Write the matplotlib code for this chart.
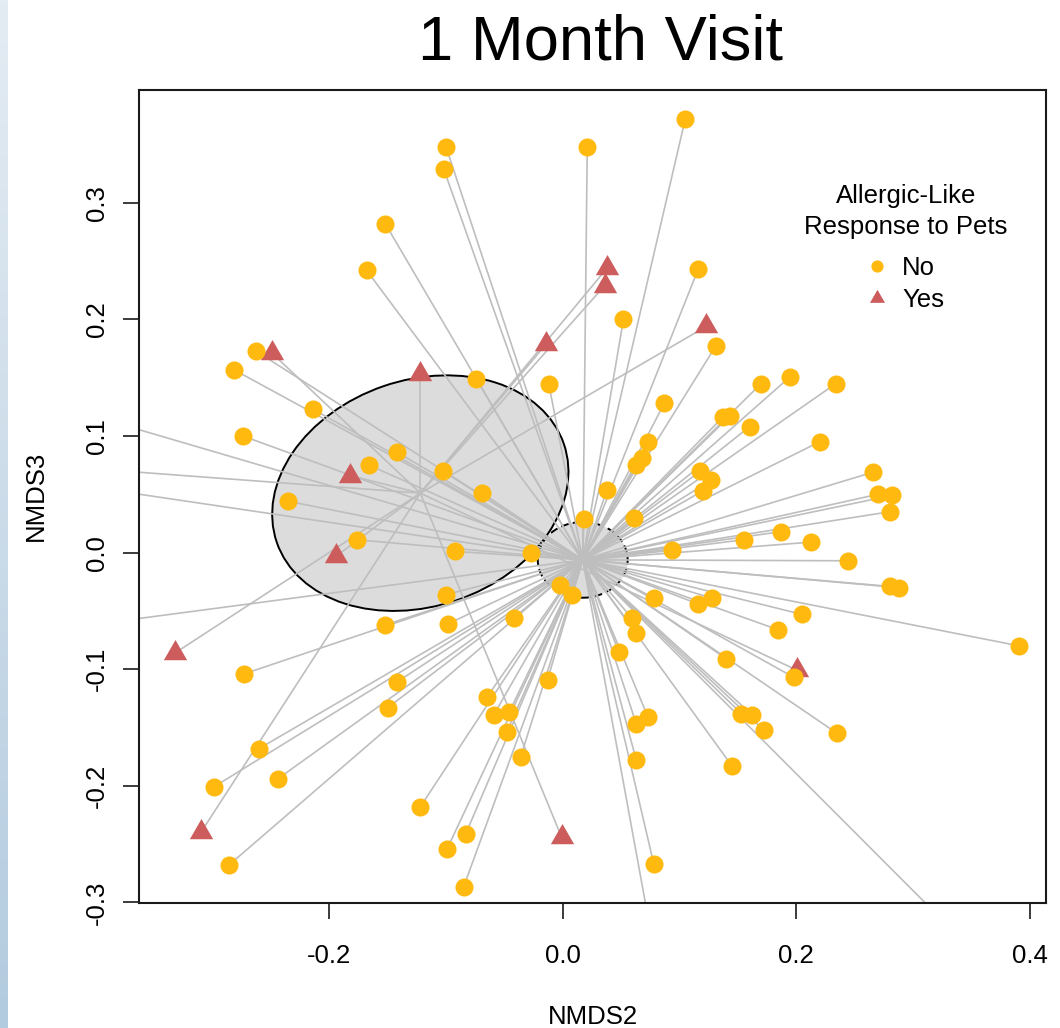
import numpy as np
import matplotlib
matplotlib.use("Agg")
import matplotlib.pyplot as plt
from matplotlib.patches import Ellipse
from matplotlib.path import Path
from matplotlib.lines import Line2D
from matplotlib.collections import LineCollection
from matplotlib.colors import LinearSegmentedColormap

plt.rcParams['font.family'] = ['Liberation Sans', 'DejaVu Sans']
plt.rcParams['axes.unicode_minus'] = False

# ---------------- data (NMDS2, NMDS3) ----------------
no_x = [-0.100, -0.102, 0.021, 0.105, -0.152, -0.168, 0.116, 0.052, 0.131, -0.263,
        -0.282, -0.214, -0.274, -0.142, -0.166, -0.103, -0.235, -0.176, -0.100, -0.152,
        -0.098, -0.074, -0.012, 0.087, 0.137, 0.143, 0.160, 0.073, 0.068, 0.063,
        0.118, 0.127, 0.120, -0.069, 0.038, 0.061, 0.018, 0.155, 0.094, -0.092,
        -0.027, -0.002, 0.008, 0.078, 0.116, 0.128, -0.042, 0.059, 0.170, 0.195,
        0.234, 0.220, 0.266, 0.270, 0.282, 0.280, 0.187, 0.213, 0.244, 0.280,
        0.288, 0.205, 0.184, -0.273, -0.142, -0.150, -0.260, -0.299, -0.244, -0.286,
        -0.122, -0.099, 0.063, 0.048, 0.140, -0.013, -0.065, -0.059, -0.046, -0.048,
        -0.036, 0.063, 0.073, 0.153, 0.162, 0.145, 0.063, -0.083, -0.085, 0.078,
        0.391, 0.198, 0.172, 0.235,
        -0.450, -0.450, -0.450, 0.089, 0.390]
no_y = [0.348, 0.329, 0.348, 0.372, 0.282, 0.242, 0.243, 0.200, 0.177, 0.173,
        0.157, 0.123, 0.100, 0.086, 0.075, 0.070, 0.044, 0.011, -0.036, -0.062,
        -0.061, 0.149, 0.145, 0.128, 0.116, 0.117, 0.108, 0.095, 0.081, 0.075,
        0.070, 0.062, 0.053, 0.051, 0.054, 0.030, 0.029, 0.011, 0.002, 0.001,
        0.000, -0.028, -0.036, -0.039, -0.044, -0.039, -0.056, -0.056, 0.145, 0.151,
        0.145, 0.095, 0.069, 0.050, 0.049, 0.035, 0.018, 0.009, -0.007, -0.029,
        -0.030, -0.053, -0.066, -0.104, -0.111, -0.133, -0.168, -0.201, -0.194, -0.268,
        -0.218, -0.254, -0.069, -0.085, -0.091, -0.109, -0.124, -0.139, -0.137, -0.154,
        -0.175, -0.147, -0.141, -0.138, -0.139, -0.183, -0.178, -0.241, -0.287, -0.267,
        -0.080, -0.107, -0.152, -0.155,
        0.131, 0.063, -0.068, -0.400, -0.380]

yes_x = [-0.249, -0.122, -0.182, -0.194, -0.332, -0.310, -0.001, -0.014, 0.038, 0.036,
         0.123, 0.201, -0.579]
yes_y = [0.171, 0.153, 0.066, -0.003, -0.086, -0.240, -0.244, 0.179, 0.244, 0.229,
         0.194, -0.101, 0.085]

centroid_no = (0.0171, -0.0062)
centroid_yes = (-0.122, 0.051)
ellipse_no = (0.077, 0.065, 0.0)      # width, height, angle (deg)
ellipse_yes = (0.260, 0.194, 19.0)

x_ticks = [-0.2, 0.0, 0.2, 0.4]
y_ticks = [-0.3, -0.2, -0.1, 0.0, 0.1, 0.2, 0.3]
group_labels = ['No', 'Yes']
legend_title = ['Allergic-Like', 'Response to Pets']
title = '1 Month Visit'

# ---------------- styles ----------------
C_NO = '#FFB90F'
C_YES = '#CD5C5C'
C_LINE = '#BEBEBE'
C_FILL = '#DCDCDC'
FS = 18.5

tri_path = Path([(0, 1), (-0.866, -0.5), (0.866, -0.5), (0, 1)],
                [Path.MOVETO, Path.LINETO, Path.LINETO, Path.CLOSEPOLY])

W, H = 1060, 1028
fig = plt.figure(figsize=(W / 100, H / 100), dpi=100)
fig.patch.set_facecolor('white')

# slide side strip
strip = fig.add_axes([0, 0, 8 / W, 1])
grad = np.linspace(0, 1, 256).reshape(-1, 1)
cm = LinearSegmentedColormap.from_list('s', ['#E4ECF3', '#B3CBDF'])
strip.imshow(grad, aspect='auto', cmap=cm, extent=[0, 1, 0, 1], origin='upper')
strip.axis('off')

L, R, T, B = 139, 1046, 89.7, 903
ax = fig.add_axes([L / W, 1 - B / H, (R - L) / W, (B - T) / H])
ax.set_xlim(-0.363, 0.414)
ax.set_ylim(-0.3005, 0.397)

# ellipses
for (cx, cy), (w, h, a), ls in [(centroid_yes, ellipse_yes, '-'),
                                  (centroid_no, ellipse_no, (0, (4, 2.2)))]:
    e = Ellipse((cx, cy), w, h, angle=a, facecolor=C_FILL, edgecolor='black',
                linewidth=1.4, linestyle=ls, zorder=1)
    ax.add_patch(e)

# spider lines
for xs, ys, (cx, cy) in [(no_x, no_y, centroid_no), (yes_x, yes_y, centroid_yes)]:
    segs = [[(cx, cy), (x, y)] for x, y in zip(xs, ys)]
    ax.add_collection(LineCollection(segs, colors=C_LINE, linewidths=1.2, zorder=2))

# points
ax.scatter(yes_x, yes_y, s=19.4 ** 2, marker=tri_path, c=C_YES, linewidths=0, zorder=3)
ax.scatter(no_x, no_y, s=13 ** 2, marker='o', c=C_NO, linewidths=0, zorder=4)

# axes styling
for sp in ax.spines.values():
    sp.set_linewidth(1.5)
    sp.set_color('#1a1a1a')
ax.set_xticks(x_ticks)
ax.set_xticklabels([f"{v:.1f}" for v in x_ticks])
ax.set_yticks(y_ticks)
ax.set_yticklabels([f"{v:.1f}" for v in y_ticks])
ax.tick_params(axis='both', length=11.8, width=1.2, labelsize=FS, color='#1a1a1a')
ax.tick_params(axis='x', pad=18)
ax.tick_params(axis='y', pad=10, labelrotation=90)
for lbl in ax.get_yticklabels():
    lbl.set_va('center')

ax.set_xlabel('NMDS2', fontsize=FS)
ax.xaxis.set_label_coords(0.5, (B - 1004.5) / (B - T))
ax.set_ylabel('NMDS3', fontsize=FS)
ax.yaxis.set_label_coords((48 - L) / (R - L), 0.5)

# legend
handles = [Line2D([], [], ls='', marker='o', color=C_NO, markersize=8.8, markeredgewidth=0),
           Line2D([], [], ls='', marker=tri_path, color=C_YES, markersize=12.5, markeredgewidth=0)]
leg = ax.legend(handles, group_labels, loc='upper left',
                bbox_to_anchor=((867 - L) / (R - L), (B - 255.6) / (B - T)),
                frameon=False, fontsize=FS, handlelength=0.8, handletextpad=0.57,
                labelspacing=0.31, borderpad=0, borderaxespad=0)
for line, yb in zip(legend_title, [203, 234]):
    ax.text((905.7 - L) / (R - L), (B - yb) / (B - T), line, transform=ax.transAxes,
            ha='center', va='baseline', fontsize=FS)

fig.text(600 / W, 1 - 60 / H, title, ha='center', va='baseline', fontsize=45.5)

fig.savefig('out.png', dpi=100, facecolor='white')
